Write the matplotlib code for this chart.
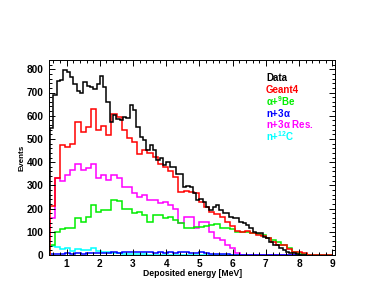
import numpy as np
import matplotlib
matplotlib.use('Agg')
import matplotlib.pyplot as plt

plt.rcParams['font.family'] = ['Liberation Sans', 'DejaVu Sans']
plt.rcParams['font.weight'] = 'bold'
plt.rcParams['mathtext.fontset'] = 'custom'
plt.rcParams['mathtext.rm'] = 'Liberation Sans:bold'
plt.rcParams['mathtext.default'] = 'rm'

# data histogram, 0.1 MeV bins starting at 0.4 MeV
data_start, data_width = 0.4, 0.1
data = [200, 545, 690, 750, 755, 798, 788, 767, 738, 706,
        700, 745, 728, 724, 717, 738, 770, 724, 659, 573,
        602, 588, 580, 595, 592, 648, 624, 552, 509, 495,
        452, 473, 452, 409, 416, 387, 401, 380, 380, 351,
        351, 294, 297, 294, 265, 237, 240, 229, 208, 194,
        208, 215, 194, 179, 179, 165, 158, 158, 143, 136,
        129, 115, 100, 93, 93, 79, 72, 57, 43, 43,
        29, 21, 15, 10, 7, 3, 2, 1]

# simulation histograms, wider bins
sim_start, sim_width = 0.49, 0.155
geant4 = [210, 330, 473, 466, 480, 573, 530, 552, 631, 538,
          555, 516, 609, 595, 540, 502, 487, 437, 452, 440,
          423, 394, 380, 360, 335, 272, 275, 270, 265, 230,
          208, 186, 175, 165, 143, 125, 105, 100, 105, 93,
          88, 80, 72, 57, 45, 43, 25, 14, 12, 8,
          2, 0, 0, 0, 0]
alpha_be = [45, 100, 112, 115, 115, 158, 143, 165, 215, 186,
            194, 194, 235, 233, 197, 197, 179, 186, 172, 143,
            172, 172, 158, 165, 151, 136, 115, 115, 122, 122,
            125, 130, 135, 118, 115, 110, 100, 98, 100, 93,
            90, 88, 72, 65, 55, 43, 29, 14, 7, 3,
            0, 0, 0, 0, 0]
n3a = [5, 6, 5, 7, 6, 8, 6, 7, 8, 9,
       8, 10, 12, 10, 11, 13, 12, 15, 11, 13,
       10, 12, 9, 12, 10, 11, 12, 9, 10, 12,
       8, 6, 5, 4, 3, 2, 2, 1, 0, 0,
       0, 0, 0, 0, 0, 0, 0, 0, 0, 0,
       0, 0, 0, 0, 0]
n3a_res = [158, 330, 320, 344, 366, 391, 366, 373, 391, 330,
           344, 325, 344, 330, 294, 294, 265, 251, 258, 237,
           237, 222, 229, 215, 200, 140, 165, 165, 115, 143,
           143, 100, 72, 65, 43, 29, 8, 0, 0, 0,
           0, 0, 0, 0, 0, 0, 0, 0, 0, 0,
           0, 0, 0, 0, 0]
n12c = [38, 35, 28, 30, 18, 28, 20, 22, 32, 18,
        14, 14, 10, 8, 6, 5, 4, 3, 3, 2,
        2, 2, 1, 1, 1, 1, 1, 0, 0, 0,
        0, 0, 0, 0, 0, 0, 0, 0, 0, 0,
        0, 0, 0, 0, 0, 0, 0, 0, 0, 0,
        0, 0, 0, 0, 0]

labels = ['Data', 'Geant4', r'$\alpha$+$^{9}$Be', r'n+3$\alpha$',
          r'n+3$\alpha$ Res.', r'n+$^{12}$C']
colors = ['black', '#ff0000', '#00ee00', '#0000ff', '#ff00ff', '#00ffff']

data_edges = data_start + data_width * np.arange(len(data) + 1)
sim_edges = sim_start + sim_width * np.arange(len(geant4) + 1)

fig = plt.figure(figsize=(3.85, 2.98), dpi=100)
ax = fig.add_axes([49/385, 1 - 255/298, 286/385, 195/298])

sims = [geant4, alpha_be, n3a, n3a_res, n12c]
for vals, c in zip(sims[::-1], colors[1:][::-1]):
    ax.stairs(vals, sim_edges, color=c, lw=1.1)
ax.stairs(data, data_edges, color='black', lw=1.1)

ax.set_xlim(0.47, 9.08)
ax.set_ylim(0, 840)
ax.set_xticks(range(1, 10))
ax.set_yticks(range(0, 801, 100))
ax.set_xticks(np.arange(0.6, 9.05, 0.2), minor=True)
ax.set_yticks(range(0, 840, 20), minor=True)
ax.tick_params(which='both', direction='in', top=True, right=True,
               width=0.7, labelsize=7.3)
ax.tick_params(which='major', length=4)
ax.tick_params(which='minor', length=2)
ax.tick_params(axis='y', pad=4)
ax.tick_params(axis='x', pad=3)
for lab in ax.get_xticklabels() + ax.get_yticklabels():
    lab.set_fontweight('bold')
for s in ax.spines.values():
    s.set_linewidth(0.7)

fig.text(193/385, 1 - 273/298, 'Deposited energy [MeV]', fontsize=6.2,
         fontweight='bold', ha='center', va='center')
fig.text(21.5/385, 1 - 158/298, 'Events', fontsize=5.8, fontweight='bold',
         rotation=90, ha='center', va='center')

for i, (lab, c) in enumerate(zip(labels, colors)):
    fig.text(266/385, 1 - (78.3 + 11.5*i)/298, lab, fontsize=7,
             fontweight='bold', color=c, ha='left', va='center')

fig.savefig('out.png', dpi=100)
